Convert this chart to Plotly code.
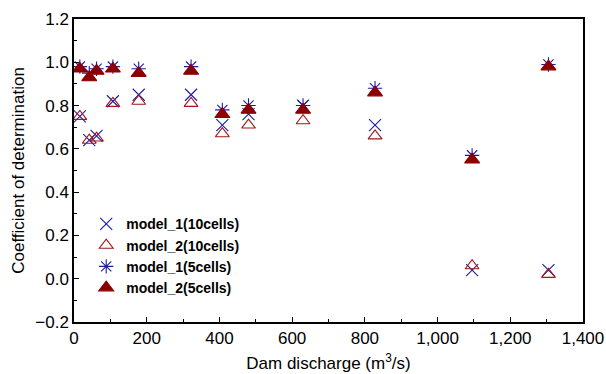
import plotly.graph_objects as go

discharge = [16, 42, 62, 107, 178, 322, 408, 480, 630, 828, 1095, 1305]
m1_10 = [0.75, 0.64, 0.66, 0.82, 0.85, 0.85, 0.71, 0.76, 0.80, 0.71, 0.04, 0.04]
m2_10 = [0.75, 0.64, 0.65, 0.81, 0.82, 0.81, 0.67, 0.71, 0.73, 0.66, 0.06, 0.02]
m1_5 = [0.98, 0.95, 0.97, 0.98, 0.97, 0.98, 0.78, 0.80, 0.80, 0.88, 0.57, 0.99]
m2_5 = [0.97, 0.93, 0.96, 0.97, 0.95, 0.96, 0.76, 0.78, 0.78, 0.86, 0.55, 0.98]

names = ["model_1(10cells)", "model_2(10cells)", "model_1(5cells)", "model_2(5cells)"]
series = [m1_10, m2_10, m1_5, m2_5]
symbols = ["x-thin-open", "triangle-up-open", "asterisk-open", "triangle-up"]
colors = ["#1c1ca8", "#a01818", "#1c1ca8", "#8b0000"]
sizes = [12, 12, 12, 13]

FONT = "Liberation Sans, Arial, sans-serif"

fig = go.Figure()
for n, s, sym, c, sz in zip(names, series, symbols, colors, sizes):
    fig.add_trace(go.Scatter(
        x=discharge, y=s, mode="markers", name=n,
        marker=dict(symbol=sym, size=sz, color=c, line=dict(color=c, width=1.1)),
    ))

axis_common = dict(
    showline=True, linecolor="black", linewidth=1.5, mirror=True, automargin=False,
    ticks="inside", ticklen=5, tickcolor="black", showgrid=False, zeroline=False,
    tickfont=dict(family=FONT, size=17, color="black"),
)
fig.update_xaxes(
    range=[0, 1400], dtick=200, tickformat=",d",
    minor=dict(ticks="inside", ticklen=3, dtick=100, tickcolor="black"),
    title=dict(text="Dam discharge (m<sup>3</sup>/s)", standoff=10,
               font=dict(family=FONT, size=17, color="black")),
    **axis_common,
)
fig.update_yaxes(
    range=[-0.2, 1.2], dtick=0.2, tickformat=".1f",
    minor=dict(ticks="inside", ticklen=3, dtick=0.1, tickcolor="black"),
    title=dict(text="Coefficient of determination", standoff=6,
               font=dict(family=FONT, size=17, color="black")),
    **axis_common,
)
fig.update_layout(
    width=606, height=374,
    margin=dict(l=74, r=23, t=19, b=52),
    plot_bgcolor="white", paper_bgcolor="white",
    legend=dict(x=0.024, y=0.375, xanchor="left", yanchor="top",
                bgcolor="rgba(0,0,0,0)", itemwidth=30, tracegroupgap=0,
                font=dict(family=FONT, size=14, color="black", weight="bold")),
)
fig.write_html("out.html")
